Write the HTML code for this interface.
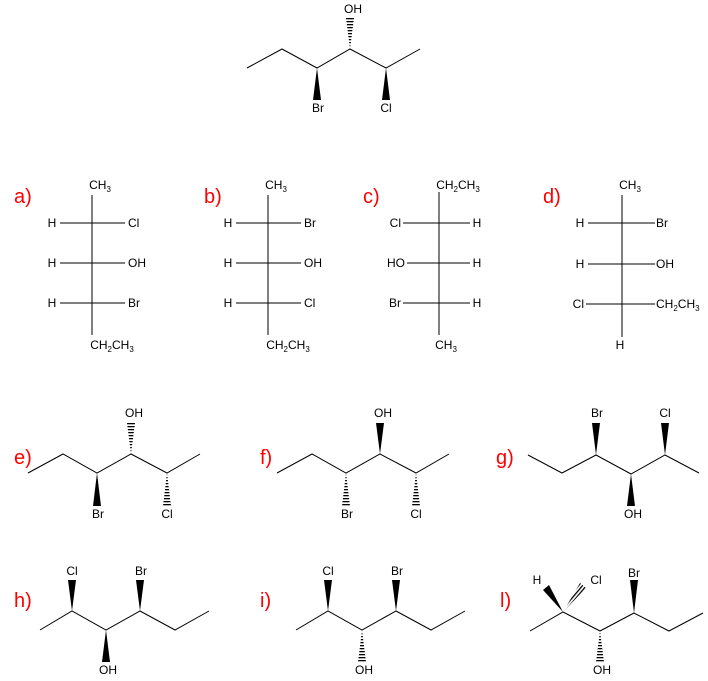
<!DOCTYPE html>
<html><head><meta charset="utf-8"><style>
html,body{margin:0;padding:0;background:#fff;}
svg{display:block;}
text{font-family:"Liberation Sans",Arial,sans-serif;font-size:12px;fill:#000;}
.r{font-size:20px;fill:#f00;}
.s{font-size:8px;}
</style></head><body>
<svg width="708" height="681" viewBox="0 0 708 681" xmlns="http://www.w3.org/2000/svg">
<defs>
<pattern id="hv" patternUnits="userSpaceOnUse" width="20" height="3"><rect width="20" height="1.3" fill="#000"/></pattern>
<pattern id="hd" patternUnits="userSpaceOnUse" width="20" height="3" patternTransform="rotate(-50)"><rect width="20" height="1.3" fill="#000"/></pattern>
</defs>
<g stroke="#000" stroke-width="1" fill="none">
<!-- top -->
<polyline points="247,68 282,49 317,68 350,49 386,68 420,49"/>
<!-- e -->
<polyline points="28,473 63,454 97,473 131,454 167,473 200,454"/>
<!-- f -->
<polyline points="277,473 312,454 346,473 380,454 416,473 449,454"/>
<!-- g -->
<polyline points="528,455 562,473 596,455 631,474 665,455 699,473"/>
<!-- h -->
<polyline points="40,630 72,611 106,630 140,611 175,630 209,611"/>
<!-- i -->
<polyline points="296,630 328,611 362,630 396,611 431,630 465,611"/>
<!-- l -->
<polyline points="530,631 563,612 600,631 634,613 669,631 703,613"/>
<!-- Fischer a -->
<line x1="92" y1="195" x2="92" y2="335"/>
<line x1="60" y1="223" x2="125" y2="223"/><line x1="60" y1="263" x2="125" y2="263"/><line x1="60" y1="303" x2="125" y2="303"/>
<!-- b -->
<line x1="268" y1="195" x2="268" y2="335"/>
<line x1="236" y1="223" x2="301" y2="223"/><line x1="236" y1="263" x2="301" y2="263"/><line x1="236" y1="303" x2="301" y2="303"/>
<!-- c -->
<line x1="439" y1="192" x2="439" y2="335"/>
<line x1="403" y1="223" x2="470" y2="223"/><line x1="407" y1="263" x2="470" y2="263"/><line x1="403" y1="303" x2="470" y2="303"/>
<!-- d -->
<line x1="622" y1="195" x2="622" y2="337"/>
<line x1="588" y1="223" x2="655" y2="223"/><line x1="588" y1="264" x2="655" y2="264"/><line x1="586" y1="304" x2="655" y2="304"/>
</g>
<!-- wedges -->
<g fill="#000">
<polygon points="317,68 313,100 321,100"/>
<polygon points="386,68 382,100 390,100"/>
<polygon points="350,49 346,18 354,18" fill="url(#hv)"/>
<!-- e -->
<polygon points="97,473 93,506 101,506"/>
<polygon points="131,454 127,423 135,423" fill="url(#hv)"/>
<polygon points="167,473 163,506 171,506" fill="url(#hv)"/>
<!-- f -->
<polygon points="380,454 376,423 384,423"/>
<polygon points="346,473 342,506 350,506" fill="url(#hv)"/>
<polygon points="416,473 412,506 420,506" fill="url(#hv)"/>
<!-- g -->
<polygon points="596,455 592,423 600,423"/>
<polygon points="665,455 661,423 669,423"/>
<polygon points="631,474 627,506 635,506"/>
<!-- h -->
<polygon points="72,611 68,580 76,580"/>
<polygon points="140,611 136,580 144,580"/>
<polygon points="106,630 102,662 110,662"/>
<!-- i -->
<polygon points="328,611 324,580 332,580"/>
<polygon points="396,611 392,580 400,580"/>
<polygon points="362,630 358,662 366,662" fill="url(#hv)"/>
<!-- l -->
<polygon points="563,612 543,590 549,585"/>
<polygon points="563,612 580,583 586,588" fill="url(#hd)"/>
<polygon points="634,613 630,580 638,580"/>
<polygon points="600,631 596,662 604,662" fill="url(#hv)"/>
</g>
<!-- labels -->
<g text-anchor="middle">
<text x="353" y="13">OH</text><text x="318" y="112">Br</text><text x="386" y="112">Cl</text>
<!-- a -->
<text x="100" y="189">CH<tspan class="s" dy="3">3</tspan></text>
<text x="52" y="227">H</text><text x="52" y="267">H</text><text x="52" y="307">H</text>
<text x="112" y="349">CH<tspan class="s" dy="3">2</tspan><tspan dy="-3">CH</tspan><tspan class="s" dy="3">3</tspan></text>
<!-- b -->
<text x="276" y="189">CH<tspan class="s" dy="3">3</tspan></text>
<text x="228" y="227">H</text><text x="228" y="267">H</text><text x="228" y="307">H</text>
<text x="288" y="349">CH<tspan class="s" dy="3">2</tspan><tspan dy="-3">CH</tspan><tspan class="s" dy="3">3</tspan></text>
<!-- c -->
<text x="458" y="189">CH<tspan class="s" dy="3">2</tspan><tspan dy="-3">CH</tspan><tspan class="s" dy="3">3</tspan></text>
<text x="477" y="227">H</text><text x="477" y="267">H</text><text x="477" y="307">H</text>
<text x="446" y="349">CH<tspan class="s" dy="3">3</tspan></text>
<!-- d -->
<text x="630" y="189">CH<tspan class="s" dy="3">3</tspan></text>
<text x="580" y="227">H</text><text x="580" y="268">H</text><text x="620" y="349">H</text>
<!-- e-l -->
<text x="134" y="417">OH</text><text x="98" y="518">Br</text><text x="167" y="518">Cl</text>
<text x="383" y="417">OH</text><text x="347" y="518">Br</text><text x="416" y="518">Cl</text>
<text x="597" y="417">Br</text><text x="665" y="417">Cl</text><text x="633" y="518">OH</text>
<text x="72" y="575">Cl</text><text x="141" y="575">Br</text><text x="108" y="674">OH</text>
<text x="328" y="575">Cl</text><text x="397" y="575">Br</text><text x="364" y="674">OH</text>
<text x="537" y="584">H</text><text x="596" y="584">Cl</text><text x="634" y="577">Br</text><text x="602" y="674">OH</text>
</g>
<g text-anchor="start">
<text x="128" y="227">Cl</text><text x="128" y="267">OH</text><text x="128" y="307">Br</text>
<text x="304" y="227">Br</text><text x="304" y="267">OH</text><text x="304" y="307">Cl</text>
<text x="656" y="227">Br</text><text x="656" y="268">OH</text>
<text x="656" y="308">CH<tspan class="s" dy="3">2</tspan><tspan dy="-3">CH</tspan><tspan class="s" dy="3">3</tspan></text>
</g>
<g text-anchor="end">
<text x="401" y="227">Cl</text><text x="405" y="267">HO</text><text x="401" y="307">Br</text>
<text x="584" y="308">Cl</text>
</g>
<text class="r" x="14" y="203">a)</text>
<text class="r" x="204" y="203">b)</text>
<text class="r" x="363" y="203">c)</text>
<text class="r" x="543" y="203">d)</text>
<text class="r" x="14" y="464">e)</text>
<text class="r" x="260" y="464">f)</text>
<text class="r" x="496" y="464">g)</text>
<text class="r" x="14" y="607">h)</text>
<text class="r" x="260" y="607">i)</text>
<text class="r" x="500" y="607">l)</text>
</svg>
</body></html>
